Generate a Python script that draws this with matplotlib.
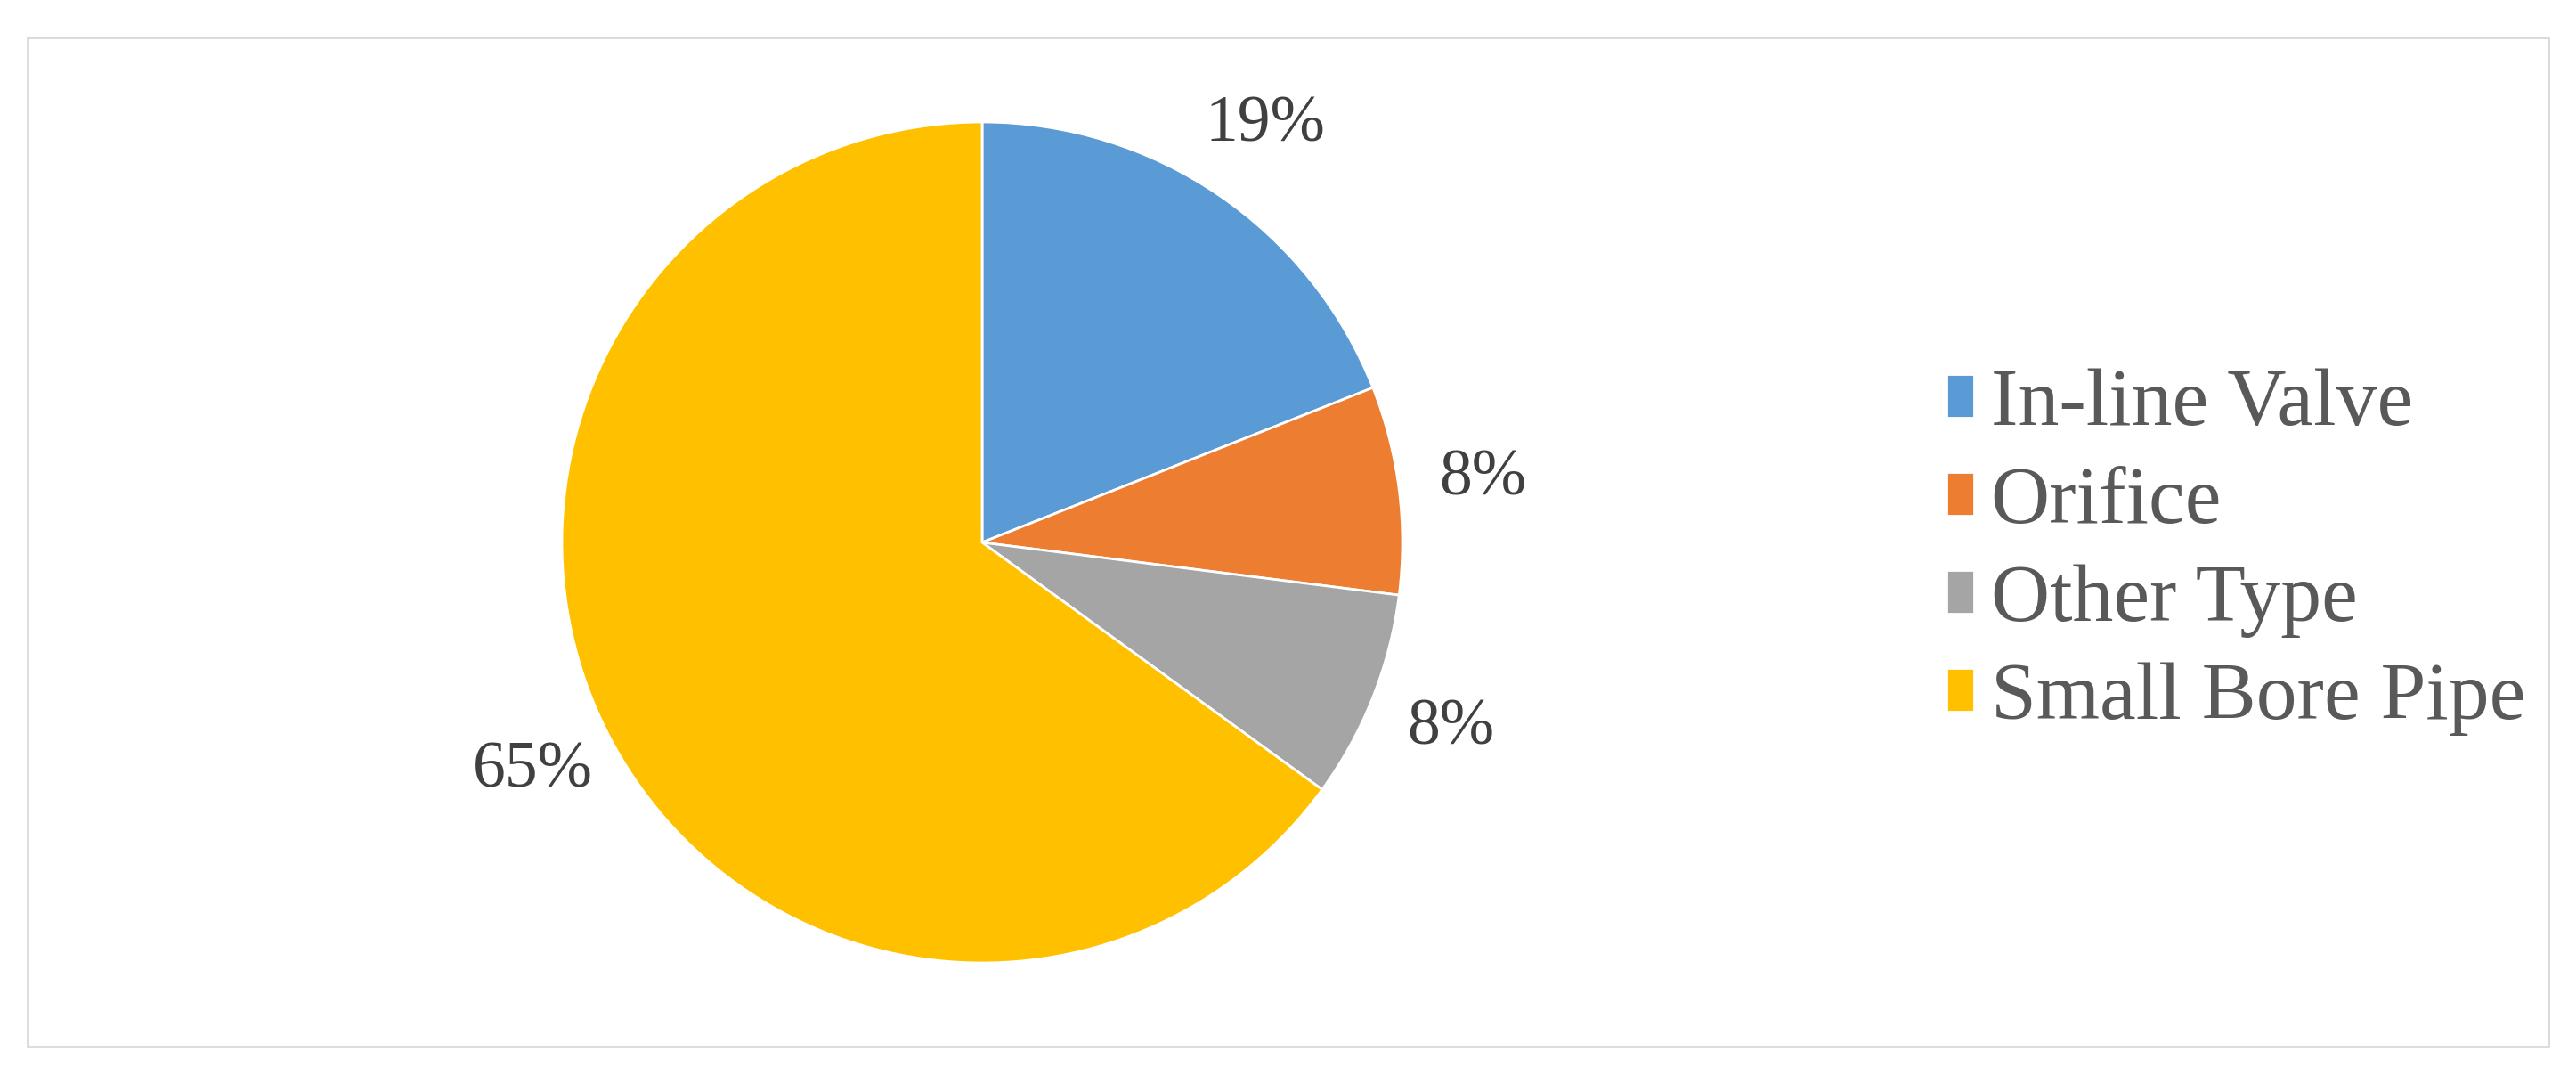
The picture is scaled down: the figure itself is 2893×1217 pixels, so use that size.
import matplotlib.pyplot as plt
from matplotlib.patches import Rectangle

labels = ["In-line Valve", "Orifice", "Other Type", "Small Bore Pipe"]
shares = [19, 8, 8, 65]
colors = ["#5B9BD5", "#ED7D31", "#A5A5A5", "#FFC000"]

W, H = 2893, 1217
fig = plt.figure(figsize=(W / 100, H / 100), dpi=100)
plt.rcParams["font.family"] = ["Liberation Serif", "DejaVu Serif"]

# outer frame
fig.patches.append(Rectangle((31 / W, 42 / H), (2862 - 31) / W, (1175 - 42) / H,
                             transform=fig.transFigure, fill=False,
                             edgecolor="#d9d9d9", linewidth=2))

cx, cy, r = 1103, 609, 472
ax = fig.add_axes([(cx - r) / W, (H - cy - r) / H, 2 * r / W, 2 * r / H])
wedges, _, autotexts = ax.pie(shares, colors=colors, startangle=90, counterclock=False,
                              autopct="%d%%", pctdistance=1.2,
                              wedgeprops=dict(edgecolor="white", linewidth=2),
                              textprops=dict(fontsize=53, color="#404040"))
ax.set_xlim(-1, 1)
ax.set_ylim(-1, 1)
ax.set_aspect("equal")

fig.legend(wedges, labels, loc="center left", bbox_to_anchor=(2186 / W, 1 - 620 / H),
           frameon=False, fontsize=66, labelcolor="#595959",
           handlelength=0.34, handleheight=0.44, handletextpad=0.2,
           labelspacing=0.3, borderaxespad=0, borderpad=0)

fig.savefig("out.png", dpi=100)
